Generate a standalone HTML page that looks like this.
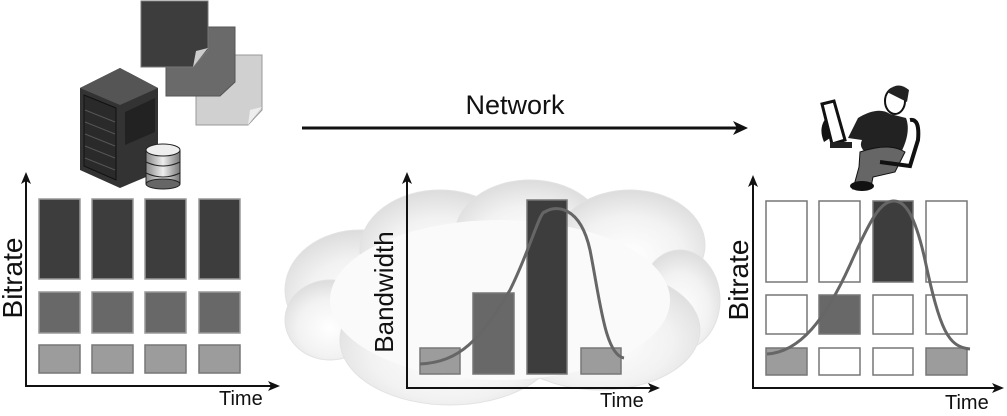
<!DOCTYPE html>
<html><head><meta charset="utf-8"><style>
html,body{margin:0;padding:0;background:#fff;}
svg{display:block;font-family:"Liberation Sans","DejaVu Sans",sans-serif;}
</style></head><body>
<svg width="1007" height="416" viewBox="0 0 1007 416" xmlns="http://www.w3.org/2000/svg">
<defs>
<radialGradient id="cg" cx="0.5" cy="0.6" r="0.6">
<stop offset="0" stop-color="#ffffff"/><stop offset="0.6" stop-color="#f2f2f2"/><stop offset="1" stop-color="#dcdcdc"/>
</radialGradient>
<linearGradient id="db" x1="0" x2="1"><stop offset="0" stop-color="#888"/><stop offset="0.5" stop-color="#eee"/><stop offset="1" stop-color="#777"/></linearGradient>
</defs>
<!-- Cloud -->
<g fill="url(#cg)" stroke="#e2e2e2" stroke-width="1">
<ellipse cx="360" cy="290" rx="75" ry="60"/>
<ellipse cx="330" cy="320" rx="45" ry="40"/>
<ellipse cx="440" cy="250" rx="80" ry="60"/>
<ellipse cx="530" cy="235" rx="75" ry="55"/>
<ellipse cx="630" cy="245" rx="75" ry="55"/>
<ellipse cx="680" cy="300" rx="40" ry="50"/>
<ellipse cx="600" cy="330" rx="100" ry="60"/>
<ellipse cx="450" cy="340" rx="110" ry="65"/>
</g>
<ellipse cx="500" cy="300" rx="170" ry="80" fill="#fafafa"/>
<!-- Documents -->
<path d="M196 55 L262 55 L262 110 L248 125 L196 125 Z" fill="#d0d0d0" stroke="#999"/>
<path d="M166 27 L235 27 L235 82 L220 96 L166 96 Z" fill="#6a6a6a" stroke="#555"/>
<path d="M141 1 L208 1 L208 50 L193 67 L141 67 Z" fill="#3d3d3d" stroke="#777"/>
<path d="M193 67 L196 51 L208 48 Z" fill="#ccc"/>
<path d="M248 125 L250 110 L262 107 Z" fill="#eee"/>
<!-- Server -->
<path d="M80 88 L120 68 L158 88 L158 172 L120 188 L80 170 Z" fill="#333"/>
<path d="M80 88 L120 68 L158 88 L120 105 Z" fill="#555"/>
<path d="M84 95 L116 108 L116 180 L84 166 Z" fill="#2a2a2a" stroke="#111"/>
<g stroke="#555"><line x1="85" y1="110" x2="115" y2="122"/><line x1="85" y1="122" x2="115" y2="134"/><line x1="85" y1="134" x2="115" y2="146"/><line x1="85" y1="146" x2="115" y2="158"/><line x1="85" y1="158" x2="115" y2="170"/></g>
<path d="M125 112 L155 98 L155 132 L125 145 Z" fill="#222"/>
<!-- DB -->
<rect x="146" y="150" width="34" height="34" fill="url(#db)" stroke="#222"/>
<ellipse cx="163" cy="150" rx="17" ry="6" fill="#eee" stroke="#222"/>
<path d="M146 162 q17 8 34 0 M146 173 q17 8 34 0" stroke="#222" fill="none"/>
<ellipse cx="163" cy="184" rx="17" ry="5" fill="#666" stroke="#222"/>
<!-- Network -->
<text x="515" y="114" font-size="27" text-anchor="middle" fill="#111">Network</text>
<line x1="302" y1="128" x2="738" y2="128" stroke="#111" stroke-width="3"/>
<path d="M748 128 L733 121 L737 128 L733 135 Z" fill="#111"/>
<!-- Person -->
<g>
<path d="M822 104 L834 101 L845 140 L832 144 Z" fill="#fff" stroke="#111" stroke-width="3"/>
<path d="M826 118 q-8 10 -2 24 l6 -4 Z" fill="#111"/>
<rect x="830" y="142" width="22" height="6" fill="#222"/>
<path d="M858 118 q20 -12 32 -4 l16 4 q6 16 -8 40 l-30 -4 q-10 -6 -6 -14 l-14 -2 Z" fill="#222"/>
<ellipse cx="895" cy="101" rx="10" ry="13" fill="#fff" stroke="#111" stroke-width="2"/>
<path d="M887 92 q10 -12 22 -2 l-2 12 Z" fill="#222"/>
<path d="M860 152 q30 -10 45 0 l-10 20 l-22 5 l-2 10 l-18 2 l6 -22 Z" fill="#666" stroke="#111"/>
<path d="M910 120 q10 -2 8 20 l-8 26 l-30 -4" fill="none" stroke="#111" stroke-width="4"/>
<ellipse cx="862" cy="186" rx="12" ry="5" fill="#111"/>
</g>
<g fill="none" stroke="#111" stroke-width="2">
<line x1="26" y1="180" x2="26" y2="387"/><line x1="25" y1="386" x2="272" y2="386"/>
<line x1="407" y1="180" x2="407" y2="389"/><line x1="406" y1="388" x2="652" y2="388"/>
<line x1="753" y1="182" x2="753" y2="389"/><line x1="752" y1="388" x2="996" y2="388"/>
</g>
<g fill="#111">
<path d="M26 172 L21 184 L26 181 L31 184 Z"/><path d="M280 386 L268 381 L271 386 L268 391 Z"/>
<path d="M407 172 L402 184 L407 181 L412 184 Z"/><path d="M660 388 L648 383 L651 388 L648 393 Z"/>
<path d="M753 175 L748 187 L753 184 L758 187 Z"/><path d="M1004 388 L992 383 L995 388 L992 393 Z"/>
</g>
<!-- left bars -->
<g stroke="#999" stroke-width="1.5">
<g fill="#3d3d3d"><rect x="39" y="199" width="41" height="80"/><rect x="92" y="199" width="41" height="80"/><rect x="145" y="199" width="41" height="80"/><rect x="199" y="199" width="41" height="80"/></g>
<g fill="#686868"><rect x="39" y="292" width="41" height="41"/><rect x="92" y="292" width="41" height="41"/><rect x="145" y="292" width="41" height="41"/><rect x="199" y="292" width="41" height="41"/></g>
<g fill="#9c9c9c" stroke="#777"><rect x="39" y="345" width="41" height="28"/><rect x="92" y="345" width="41" height="28"/><rect x="145" y="345" width="41" height="28"/><rect x="199" y="345" width="41" height="28"/></g>
</g>
<!-- middle bars -->
<g stroke="#777" stroke-width="1.5">
<rect x="420" y="348" width="40" height="26" fill="#9c9c9c"/>
<rect x="473" y="293" width="41" height="81" fill="#686868"/>
<rect x="527" y="200" width="40" height="174" fill="#3d3d3d"/>
<rect x="581" y="348" width="40" height="26" fill="#9c9c9c"/>
</g>
<path d="M420 364 C460 362 480 340 510 290 C530 250 540 210 545 212 C555 205 580 205 590 250 C600 300 605 355 624 358" fill="none" stroke="#666" stroke-width="3"/>
<!-- right bars -->
<g stroke="#777" stroke-width="1.5" fill="#fff">
<rect x="766" y="201" width="41" height="81"/><rect x="819" y="201" width="41" height="81"/><rect x="873" y="201" width="40" height="81" fill="#3d3d3d"/><rect x="926" y="201" width="41" height="81"/>
<rect x="766" y="295" width="41" height="39"/><rect x="819" y="295" width="41" height="39" fill="#686868"/><rect x="873" y="295" width="40" height="39"/><rect x="926" y="295" width="41" height="39"/>
<rect x="766" y="348" width="41" height="27" fill="#9c9c9c"/><rect x="819" y="348" width="41" height="27"/><rect x="873" y="348" width="40" height="27"/><rect x="926" y="348" width="41" height="27" fill="#9c9c9c"/>
</g>
<path d="M767 354 C800 352 825 320 850 265 C870 220 880 202 893 201 C905 200 915 215 925 260 C940 330 948 347 970 349" fill="none" stroke="#666" stroke-width="3"/>
<!-- labels -->
<g fill="#111">
<text transform="translate(22,278) rotate(-90)" text-anchor="middle" font-size="28">Bitrate</text>
<text transform="translate(393,292) rotate(-90)" text-anchor="middle" font-size="26">Bandwidth</text>
<text transform="translate(748,280) rotate(-90)" text-anchor="middle" font-size="28">Bitrate</text>
</g>
<g font-size="20" fill="#111">
<text x="219" y="405">Time</text>
<text x="600" y="407">Time</text>
<text x="945" y="409">Time</text>
</g>
</svg>
</body></html>
